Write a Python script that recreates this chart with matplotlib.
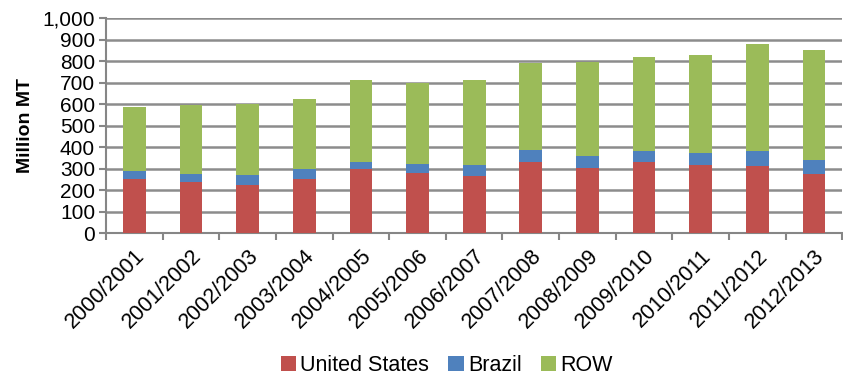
import numpy as np
import matplotlib.pyplot as plt
from matplotlib.ticker import FuncFormatter

plt.rcParams['font.family'] = ['Liberation Sans', 'DejaVu Sans']

years = ['2000/2001', '2001/2002', '2002/2003', '2003/2004', '2004/2005',
         '2005/2006', '2006/2007', '2007/2008', '2008/2009', '2009/2010',
         '2010/2011', '2011/2012', '2012/2013']
us = [251, 240, 226, 254, 299, 281, 265, 329, 305, 330, 316, 312, 273]
brazil = [39, 34, 44, 42, 34, 40, 50, 59, 52, 54, 55, 72, 68]
row = [299, 323, 332, 329, 380, 377, 398, 404, 441, 436, 458, 497, 512]

c_us = '#c0504d'
c_br = '#4f81bd'
c_row = '#9bbb59'

fig = plt.figure(figsize=(8.43, 3.79), dpi=100)
ax = fig.add_axes([0.126, 0.385, 0.873, 0.567])

x = np.arange(len(years))
w = 0.4
us_a = np.array(us)
br_a = np.array(brazil)
ax.bar(x, us, w, color=c_us, label='United States', zorder=3)
ax.bar(x, brazil, w, bottom=us_a, color=c_br, label='Brazil', zorder=3)
ax.bar(x, row, w, bottom=us_a + br_a, color=c_row, label='ROW', zorder=3)

ax.set_ylim(0, 1000)
ax.set_yticks(np.arange(0, 1001, 100))
ax.yaxis.set_major_formatter(FuncFormatter(lambda v, p: '{:,.0f}'.format(v)))
ax.set_xlim(-0.5, len(years) - 0.5)
ax.set_xticks(x)
ax.set_xticklabels(years, rotation=45, ha='right', rotation_mode='anchor', fontsize=15.5)
ax.tick_params(axis='x', length=0, pad=9)
ax.set_xticks(np.arange(-0.5, len(years), 1), minor=True)
ax.tick_params(axis='x', which='minor', length=5, width=1.5, color='#868686')
ax.tick_params(axis='y', labelsize=15, length=5, width=1.5, color='#868686', pad=3)

ax.grid(axis='y', color='#8c8c8c', linewidth=1.8, zorder=0)
for s in ['top', 'right']:
    ax.spines[s].set_visible(False)
for s in ['left', 'bottom']:
    ax.spines[s].set_color('#868686')
    ax.spines[s].set_linewidth(1.5)

ax.set_ylabel('Million MT', fontsize=14, fontweight='bold', labelpad=6)

fig.legend(loc='center', bbox_to_anchor=(0.53, 0.035), ncol=3, frameon=False,
           fontsize=15.5, handlelength=0.7, handleheight=0.7, handletextpad=0.2,
           columnspacing=0.9)

fig.savefig('out.png', dpi=100)
